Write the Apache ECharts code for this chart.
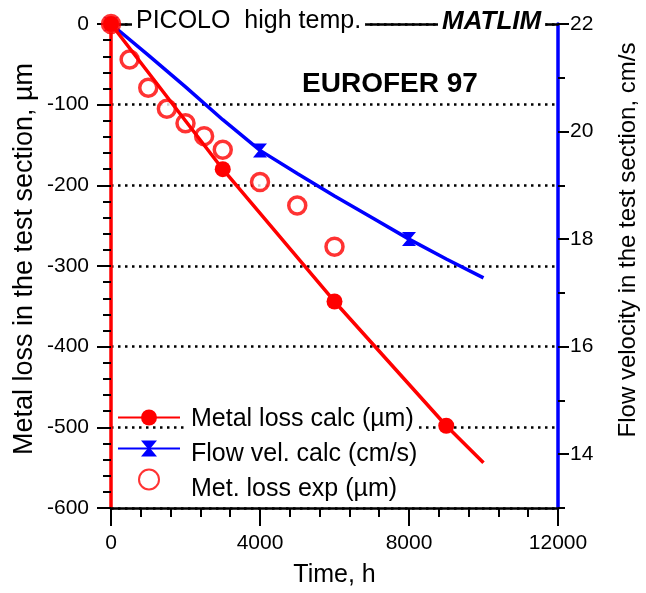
<!DOCTYPE html>
<html>
<head>
<meta charset="utf-8">
<script src="https://cdn.jsdelivr.net/npm/echarts@6/dist/echarts.min.js"></script>
<style>
html,body{margin:0;padding:0;background:#fff;}
#chart{width:646px;height:593px;}
</style>
</head>
<body>
<div id="chart"></div>
<script>
// ---- data ----
const calcTime = [0, 3000, 6000, 9000, 10000];
const calcLoss = [0, -180, -344, -498, -544];
const calcMarked = [true, true, true, true, false];

const velTime = [0, 1000, 2000, 3000, 4000, 5000, 6000, 7000, 8000, 9000, 10000];
const velValue = [22, 21.42, 20.83, 20.22, 19.65, 19.22, 18.8, 18.4, 18.0, 17.63, 17.28];
const velMarked = [true, false, false, false, true, false, false, false, true, false, false];

const expTime = [0, 500, 1000, 1500, 2000, 2500, 3000, 4000, 5000, 6000];
const expLoss = [0, -44, -79, -105, -123, -139, -156, -196, -225, -276];

const rightMajor = [14, 16, 18, 20, 22];
const rightMinor = [13, 15, 17, 19, 21];

const seriesNames = ['Metal loss calc (\u00b5m)', 'Flow vel. calc (cm/s)', 'Met. loss exp (\u00b5m)'];

const FONT = 'Liberation Sans, Arial, sans-serif';
const RED = '#ff0000', BLUE = '#0000ff';
const hourglass = 'path://M0,0 L12,0 L7,6 L12,12 L0,12 L5,6 Z';

const calcData = calcTime.map((t, i) => calcMarked[i] ? [t, calcLoss[i]] : {value: [t, calcLoss[i]], symbol: 'none'});
const velData = velTime.map((t, i) => velMarked[i] ? [t, velValue[i]] : {value: [t, velValue[i]], symbol: 'none'});
const expData = expTime.map((t, i) => [t, expLoss[i]]);

const chart = echarts.init(document.getElementById('chart'), null, {renderer: 'canvas'});
const tickLabel = {color: '#000', fontSize: 21, fontFamily: FONT};
const legendTop = 400, legendGap = 6;

chart.setOption({
  animation: false,
  backgroundColor: '#fff',
  grid: {left: 111, right: 88, top: 24, bottom: 78},
  legend: [{
    // symbols (drawn beneath the grid lines)
    orient: 'vertical', left: 112, top: legendTop, itemGap: legendGap, itemWidth: 62, itemHeight: 20, z: -1,
    data: seriesNames, selectedMode: false,
    textStyle: {fontSize: 25, fontFamily: FONT, color: 'rgba(0,0,0,0)', padding: [1, 2, 3, 6]}
  }, {
    // texts (white boxes hide the grid line)
    orient: 'vertical', left: 174, top: legendTop, itemGap: legendGap, itemWidth: 0, itemHeight: 1, z: 6,
    data: seriesNames, selectedMode: false,
    itemStyle: {opacity: 0}, lineStyle: {opacity: 0},
    textStyle: {fontSize: 25, fontFamily: FONT, color: '#000', backgroundColor: '#fff', padding: [1, 2, 3, 6]}
  }],
  xAxis: [{
    type: 'value', min: 0, max: 12000, interval: 4000, position: 'bottom',
    axisLine: {onZero: false, lineStyle: {color: '#000', width: 2.5}},
    axisTick: {length: 18, lineStyle: {color: '#000', width: 2}},
    minorTick: {show: true, splitNumber: 5, length: 9, lineStyle: {color: '#000', width: 2}},
    axisLabel: Object.assign({margin: 25, formatter: v => String(v)}, tickLabel),
    splitLine: {show: false},
    name: 'Time, h', nameLocation: 'middle', nameGap: 55,
    nameTextStyle: {fontSize: 25, fontFamily: FONT, color: '#000'}
  }, {
    type: 'value', min: 0, max: 12000, interval: 4000, position: 'top',
    axisLine: {onZero: false, lineStyle: {color: '#000', width: 2.5}},
    axisTick: {show: false}, axisLabel: {show: false}, splitLine: {show: false}
  }],
  yAxis: [{
    type: 'value', min: -600, max: 0, interval: 100, position: 'left',
    axisLine: {show: true, onZero: false, lineStyle: {color: RED, width: 3.5}},
    axisTick: {length: 14, lineStyle: {color: '#000', width: 2}},
    minorTick: {show: true, splitNumber: 5, length: 8, lineStyle: {color: '#000', width: 2}},
    axisLabel: Object.assign({margin: 22}, tickLabel),
    splitLine: {show: true, lineStyle: {color: '#000', width: 2.5, type: [2.5, 4.5]}}
  }, {
    type: 'value', min: 13, max: 22, position: 'right',
    axisLine: {show: true, onZero: false, lineStyle: {color: BLUE, width: 3.5}},
    axisTick: {length: 11, customValues: rightMajor, lineStyle: {color: '#000', width: 2}},
    axisLabel: Object.assign({margin: 12, customValues: rightMajor}, tickLabel),
    splitLine: {show: false}
  }, {
    type: 'value', min: 13, max: 22, position: 'right',
    axisLine: {show: false, onZero: false},
    axisTick: {show: true, length: 7, customValues: rightMinor, lineStyle: {color: '#000', width: 2}},
    axisLabel: {show: false, customValues: rightMinor},
    splitLine: {show: false}
  }],
  series: [{
    name: seriesNames[1], type: 'line', xAxisIndex: 0, yAxisIndex: 1, z: 2,
    data: velData, symbol: hourglass, symbolSize: [14, 14], showSymbol: true,
    lineStyle: {color: BLUE, width: 3.5}, itemStyle: {color: BLUE}
  }, {
    name: seriesNames[2], type: 'scatter', xAxisIndex: 0, yAxisIndex: 0, z: 3,
    data: expData, symbol: 'circle', symbolSize: 17,
    itemStyle: {color: '#fff', borderColor: RED, borderWidth: 3.5}
  }, {
    name: seriesNames[0], type: 'line', xAxisIndex: 0, yAxisIndex: 0, z: 4,
    data: calcData, symbol: 'circle', symbolSize: 16, showSymbol: true,
    lineStyle: {color: RED, width: 3.5}, itemStyle: {color: RED}
  }],
  graphic: [{
    type: 'text', left: 132, top: 9, z: 100,
    style: {text: 'PICOLO  high temp.', font: '25px ' + FONT, fill: '#000', backgroundColor: '#fff', padding: [0, 4, 0, 4]}
  }, {
    type: 'text', left: 438, top: 9, z: 100,
    style: {text: 'MATLIM', font: 'italic bold 26px ' + FONT, fill: '#000', backgroundColor: '#fff', padding: [0, 4, 0, 4]}
  }, {
    type: 'text', x: 390, y: 84, z: 100,
    style: {text: 'EUROFER 97', font: 'bold 28px ' + FONT, fill: '#000', align: 'center', verticalAlign: 'middle'}
  }, {
    type: 'text', x: 25, y: 259, rotation: Math.PI / 2, z: 100,
    style: {text: 'Metal loss in the test section, \u00b5m', font: '27px ' + FONT, fill: '#000', align: 'center', verticalAlign: 'middle'}
  }, {
    type: 'text', x: 628, y: 240, rotation: Math.PI / 2, z: 100,
    style: {text: 'Flow velocity in the test section, cm/s', font: '24px ' + FONT, fill: '#000', align: 'center', verticalAlign: 'middle'}
  }]
});
</script>
</body>
</html>
